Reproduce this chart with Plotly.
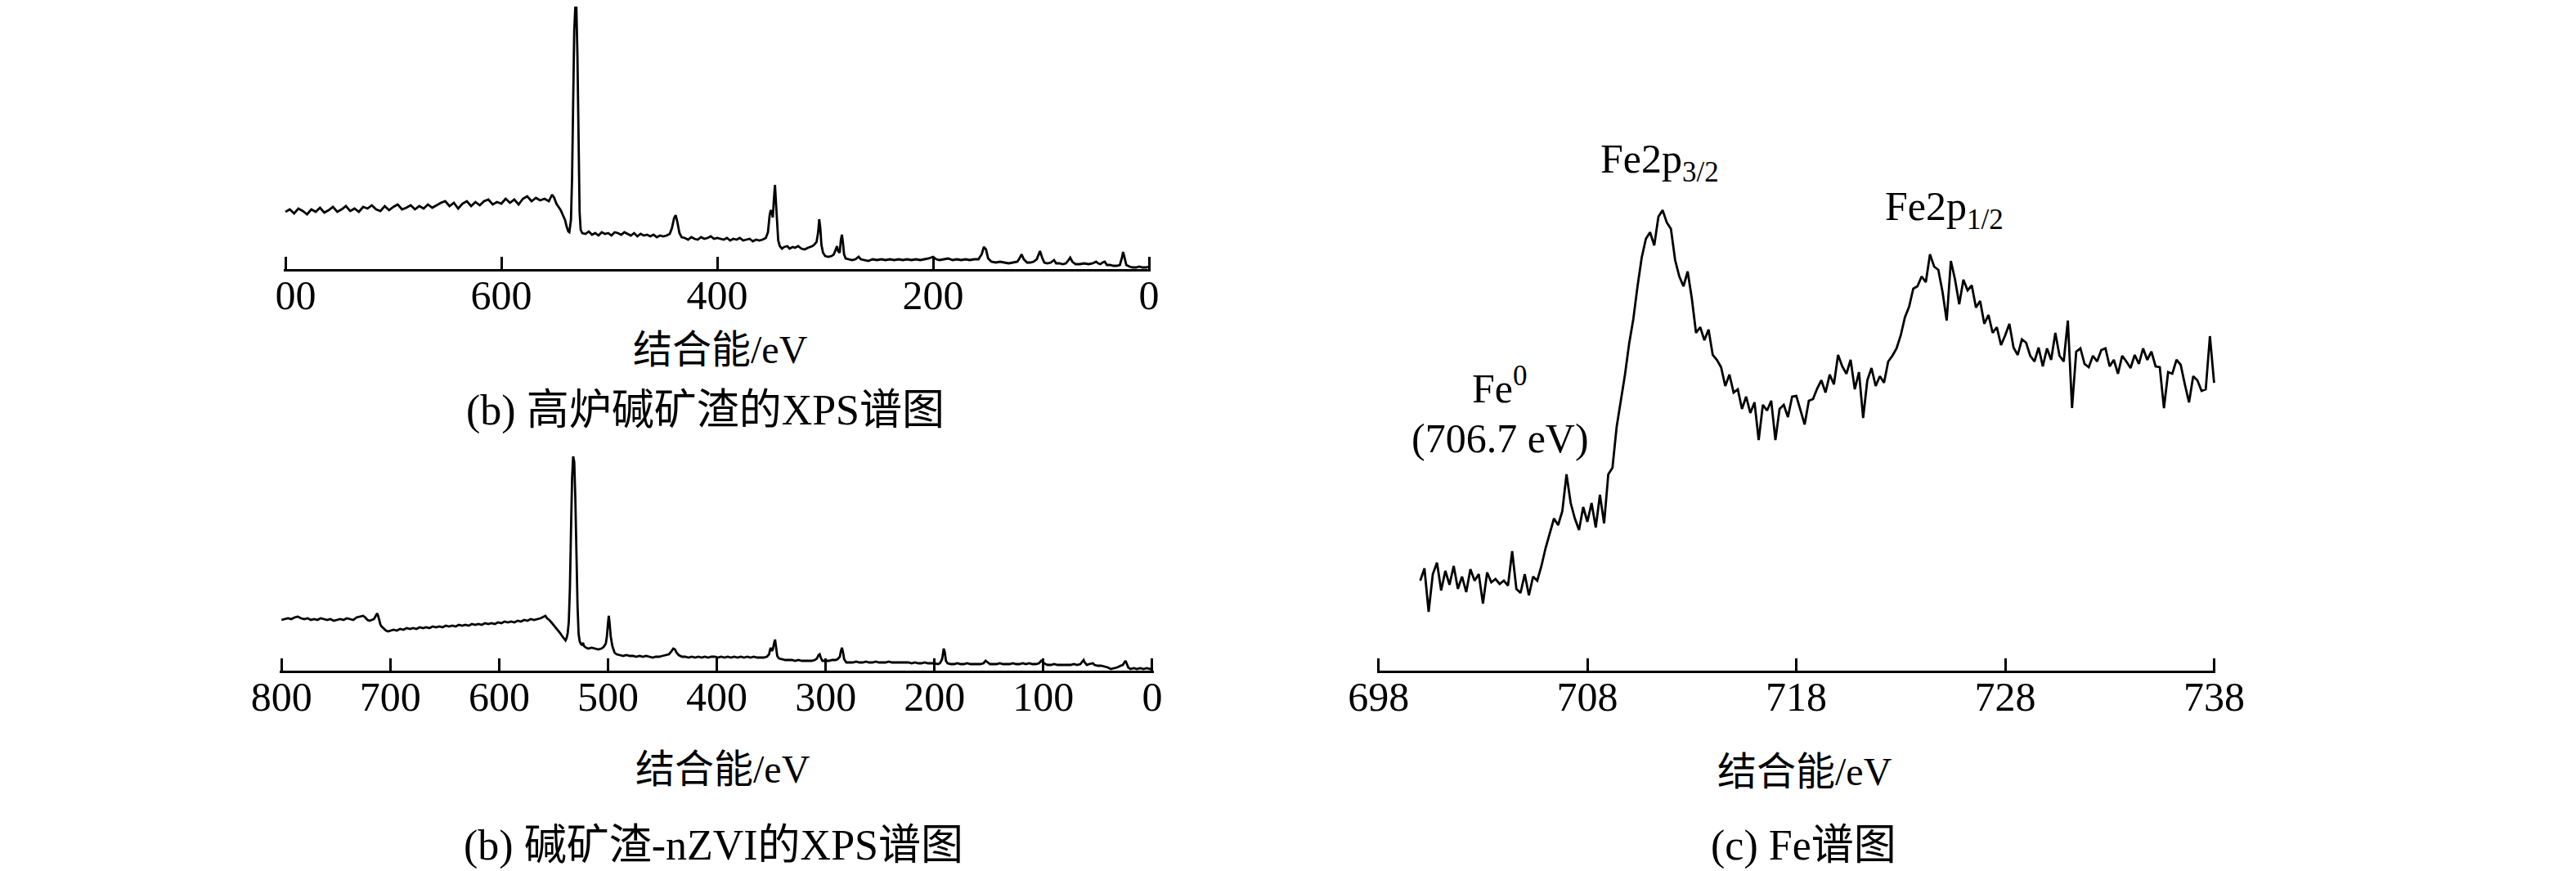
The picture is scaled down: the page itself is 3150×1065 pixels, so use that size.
import plotly.graph_objects as go

# ---------------- data ----------------
# Panel (b) top: blast-furnace alkali slag XPS survey; intensity in a.u.
SLAG_EV = [800, 796, 792, 788, 784, 780, 776, 772, 768, 764, 760, 756, 752, 748, 744, 740, 736, 732, 728, 724,
           720, 716, 712, 708, 704, 700, 696, 692, 688, 684, 680, 676, 672, 668, 664, 660, 656, 652, 648, 644,
           640, 636, 632, 628, 624, 620, 616, 612, 608, 604, 600, 596, 592, 588, 584, 580, 576, 572, 568, 564,
           560, 556, 553, 551, 549, 547, 545, 543, 541, 539.5, 538, 537, 535.5, 534.5, 533.5, 532.5, 531.5, 530.5, 529.5, 528.5,
           527.5, 526.5, 525, 522, 519, 516, 513, 510, 507, 504, 501, 498, 495, 492, 489, 486, 483, 480, 477, 474,
           471, 468, 465, 462, 459, 456, 453, 450, 447, 444, 442, 440, 438.5, 437, 435, 433, 430, 427, 424, 421,
           418, 415, 412, 409, 406, 403, 400, 397, 394, 391, 388, 385, 382, 379, 376, 373, 370, 367, 364, 361,
           358, 355, 353, 351.5, 350.5, 349.5, 348.5, 347.5, 346.5, 345.5, 344.5, 343.5, 342, 340, 338, 335, 333, 330, 328, 325,
           322, 319, 316, 314, 312, 310, 308, 306.5, 305.5, 304.5, 303.5, 302, 300, 297, 294, 292, 290, 289, 288, 286.5,
           285.5, 284.5, 283.5, 282.5, 281, 278, 275, 272, 269, 267, 264, 260, 256, 252, 248, 244, 240, 236, 232, 228,
           224, 220, 216, 212, 208, 204, 200, 197, 194, 190, 186, 182, 178, 174, 170, 166, 162, 158, 155, 153,
           151, 149, 146, 142, 138, 134, 130, 126, 122, 120, 118, 116, 113, 110, 107, 104, 102, 101, 99, 97,
           94, 91, 89, 88, 86, 83, 80, 77, 75, 73, 71, 68, 64, 60, 56, 52, 49, 47, 45, 43,
           41, 39, 36, 33, 30, 27, 25, 24, 23, 21, 18, 15, 12, 9, 6, 3, 0]
SLAG_INT = [70, 73, 68, 74, 71, 67, 73, 70, 75, 69, 72, 76, 70, 73, 77, 71, 74, 70, 76, 74,
            78, 73, 71, 77, 72, 76, 79, 73, 75, 78, 73, 77, 74, 79, 75, 78, 81, 83, 77, 81,
            74, 80, 83, 77, 82, 78, 83, 85, 79, 82, 80, 86, 81, 85, 79, 86, 89, 83, 87, 84,
            86, 83, 91, 87, 80, 76, 72, 66, 60, 52, 46, 45, 60, 110, 200, 290, 320, 320, 260, 150,
            70, 48, 44, 43, 46, 42, 44, 41, 45, 43, 44, 41, 45, 44, 42, 45, 43, 41, 44, 40,
            43, 41, 42, 40, 42, 39, 41, 40, 41, 43, 50, 62, 66, 58, 44, 39, 38, 36, 39, 37,
            36, 39, 37, 38, 40, 37, 38, 37, 36, 38, 35, 37, 36, 38, 35, 36, 37, 34, 36, 35,
            36, 38, 45, 65, 72, 70, 63, 85, 103, 80, 50, 35, 28, 25, 27, 28, 25, 27, 26, 28,
            25, 24, 26, 27, 28, 30, 33, 45, 61, 50, 30, 20, 16, 15, 16, 18, 24, 28, 22, 20,
            35, 42, 32, 18, 13, 12, 11, 12, 15, 12, 11, 10, 12, 11, 12, 11, 12, 11, 12, 11,
            12, 11, 12, 11, 12, 13, 15, 12, 11, 12, 13, 11, 12, 11, 12, 11, 12, 12, 18, 27,
            24, 13, 9, 8, 9, 8, 7, 8, 9, 13, 18, 12, 8, 8, 9, 12, 20, 22, 14, 8,
            7, 8, 10, 11, 7, 7, 6, 7, 10, 14, 9, 6, 6, 7, 6, 7, 9, 7, 6, 8,
            9, 5, 5, 4, 4, 5, 14, 21, 16, 5, 3, 2, 2, 3, 2, 2, 3]

# Panel (b) bottom: alkali slag - nZVI XPS survey; intensity in a.u.
NZVI_EV = [800, 797, 794, 791, 788, 785, 782, 779, 776, 773, 770, 767, 764, 761, 758, 755, 752, 749, 746, 743,
           740, 737, 734, 731, 728, 725, 723, 721, 719, 717, 715, 713, 712, 711, 710, 709, 708, 706, 704, 702,
           700, 697, 694, 691, 688, 685, 682, 679, 676, 673, 670, 667, 664, 661, 658, 655, 652, 649, 646, 643,
           640, 637, 634, 631, 628, 625, 622, 619, 616, 613, 610, 607, 604, 601, 598, 595, 592, 589, 586, 583,
           580, 577, 574, 571, 568, 565, 562, 559, 557.5, 556, 554, 552, 550, 548, 546, 544, 542, 540, 539, 538,
           537, 536, 535, 534, 533, 532, 531, 530, 529, 528, 527, 526, 525, 524, 523, 522, 520, 518, 515, 512,
           509, 506, 504, 502, 501, 500, 499.3, 498.5, 497.5, 496, 494, 492, 489, 486, 483, 480, 477, 474, 471, 468,
           465, 462, 459, 456, 453, 450, 447, 444, 442, 440, 438.5, 437, 435, 432, 429, 426, 423, 420, 417, 414,
           411, 408, 405, 402, 399, 396, 393, 390, 387, 384, 381, 378, 375, 372, 369, 366, 363, 360, 357, 354,
           352, 351, 350.3, 349.5, 348.5, 347.5, 346.5, 345.5, 344.5, 343, 340, 337, 334, 331, 328, 325, 322, 319, 316, 313,
           310, 308, 306.5, 305.5, 304.5, 303, 300, 297, 294, 291, 289, 287, 286, 285, 284, 283, 281, 278, 275, 272,
           269, 266, 263, 260, 257, 254, 251, 248, 245, 242, 239, 236, 233, 230, 227, 224, 221, 218, 215, 212,
           209, 206, 203, 200, 197, 195, 193, 192, 191.5, 190.5, 189.5, 188, 185, 182, 179, 176, 173, 170, 167, 164,
           161, 158, 155, 153, 151, 149, 146, 143, 140, 137, 134, 131, 128, 125, 122, 119, 116, 113, 110, 107,
           104, 102, 100, 98, 96, 93, 90, 87, 84, 81, 78, 75, 72, 69, 66, 64, 63, 62, 60, 58,
           56, 54.5, 53, 50, 47, 44, 41, 38, 35, 32, 29, 27, 25.5, 24.5, 23.5, 22, 20, 17, 14, 11,
           8, 5, 2, 0]
NZVI_INT = [62, 63, 64, 63, 65, 66, 64, 63, 64, 62, 63, 62, 64, 63, 62, 63, 61, 62, 63, 62,
            64, 63, 62, 65, 66, 67, 65, 62, 61, 62, 63, 68, 70, 66, 60, 56, 54, 51, 49, 48,
            49, 50, 49, 51, 50, 52, 51, 52, 51, 53, 52, 53, 52, 54, 53, 54, 53, 55, 54, 55,
            54, 56, 55, 56, 55, 57, 56, 57, 56, 58, 57, 58, 57, 59, 58, 60, 59, 60, 59, 61,
            60, 62, 61, 63, 62, 63, 64, 66, 67, 64, 62, 59, 56, 53, 50, 46, 42, 38, 37, 40,
            46, 60, 100, 170, 235, 262, 255, 210, 140, 80, 45, 36, 33, 31, 34, 30, 28, 27, 28, 27,
            26, 27, 29, 33, 42, 58, 67, 58, 42, 30, 22, 20, 19, 18, 19, 18, 18, 17, 18, 17,
            18, 17, 16, 17, 17, 18, 19, 20, 23, 27, 26, 22, 19, 17, 17, 16, 17, 16, 17, 16,
            17, 16, 17, 17, 16, 17, 16, 17, 16, 17, 16, 17, 16, 17, 16, 17, 16, 16, 16, 17,
            20, 26, 28, 24, 26, 33, 38, 28, 18, 15, 14, 13, 13, 13, 12, 13, 12, 12, 12, 12,
            13, 15, 19, 20, 16, 12, 12, 12, 13, 13, 14, 17, 24, 28, 22, 14, 10, 10, 10, 11,
            10, 10, 11, 10, 10, 11, 10, 10, 10, 11, 10, 10, 10, 10, 10, 10, 9, 10, 9, 9,
            10, 9, 9, 9, 8, 9, 14, 22, 27, 22, 12, 9, 8, 8, 9, 8, 8, 9, 8, 8,
            8, 8, 9, 12, 10, 8, 8, 8, 9, 8, 8, 8, 9, 8, 8, 9, 8, 9, 8, 8,
            9, 12, 10, 8, 7, 7, 8, 7, 7, 7, 7, 7, 8, 7, 8, 11, 13, 10, 7, 8,
            9, 9, 7, 6, 6, 5, 4, 2, 3, 4, 6, 7, 10, 12, 9, 4, 2, 3, 2, 3,
            2, 3, 2, 3]

# Panel (c): Fe 2p high-resolution spectrum, 0.2 eV steps; intensity in a.u.
FE_EV = [round(700.0 + 0.2 * i, 1) for i in range(191)]
FE_INT = [110, 125, 72, 118, 132, 98, 122, 105, 128, 100,
          115, 96, 124, 110, 118, 82, 120, 108, 112, 106,
          110, 104, 146, 100, 95, 118, 92, 115, 110, 128,
          150, 168, 186, 178, 195, 240, 205, 186, 172, 200,
          182, 205, 175, 215, 180, 240, 248, 298, 330, 362,
          400, 430, 470, 505, 528, 536, 520, 555, 563, 548,
          540, 502, 482, 470, 488, 455, 413, 420, 404, 417,
          386, 380, 371, 348, 362, 340, 344, 320, 335, 315,
          328, 282, 325, 318, 330, 282, 320, 325, 310, 335,
          336, 318, 301, 330, 332, 345, 355, 340, 362, 350,
          386, 372, 363, 380, 344, 365, 309, 355, 370, 348,
          360, 352, 378, 385, 394, 410, 432, 445, 467, 470,
          482, 475, 509, 494, 490, 463, 428, 501, 478, 448,
          478, 465, 471, 444, 452, 424, 435, 413, 420, 398,
          410, 424, 395, 386, 405, 401, 385, 378, 395, 372,
          394, 380, 413, 385, 378, 428, 321, 390, 394, 375,
          371, 385, 378, 392, 394, 372, 380, 363, 385, 378,
          370, 386, 375, 394, 380, 390, 372, 371, 321, 365,
          363, 380, 374, 350, 328, 360, 355, 342, 344, 409,
          352]

SLAG_TICKS = [800, 600, 400, 200, 0]
NZVI_TICKS = [800, 700, 600, 500, 400, 300, 200, 100, 0]
FE_TICKS = [698, 708, 718, 728, 738]

X_TITLE = "结合能/eV"
CAPTION_A = "(b) 高炉碱矿渣的XPS谱图"
CAPTION_B = "(b) 碱矿渣-nZVI的XPS谱图"
CAPTION_C = "(c) Fe谱图"
LABEL_32 = "Fe2p<sub>3/2</sub>"
LABEL_12 = "Fe2p<sub>1/2</sub>"
LABEL_FE0 = "Fe<sup>0</sup>"
LABEL_FE0_EV = "(706.7 eV)"

# ---------------- figure ----------------
W, H = 3150, 1065
FONT = "Liberation Serif, 'Times New Roman', 'Noto Sans CJK SC', serif"


def px(x):
    return x / W


def py(y):
    return 1 - y / H


LINE = dict(color="black", width=2.8)

fig = go.Figure()
fig.add_trace(go.Scatter(x=SLAG_EV, y=SLAG_INT, mode="lines", line=LINE, xaxis="x", yaxis="y",
                         showlegend=False))
fig.add_trace(go.Scatter(x=NZVI_EV, y=NZVI_INT, mode="lines", line=LINE, xaxis="x2", yaxis="y2",
                         showlegend=False))
fig.add_trace(go.Scatter(x=FE_EV, y=FE_INT, mode="lines", line=LINE, xaxis="x3", yaxis="y3",
                         showlegend=False))

axis_style = dict(showline=True, linecolor="black", linewidth=3, ticks="inside", ticklen=15,
                  tickwidth=3, tickcolor="black", showgrid=False, zeroline=False,
                  ticklabelstandoff=-14,
                  tickfont=dict(family=FONT, size=50, color="black"), fixedrange=True)

# ranges are padded ~2 px past the end ticks so the boundary ticks are drawn
fig.update_layout(
    width=W, height=H, margin=dict(l=0, r=0, t=0, b=0),
    paper_bgcolor="white", plot_bgcolor="white",
    font=dict(family=FONT, size=48, color="black"),
    xaxis=dict(domain=[px(311), px(1395)], range=[801.5, -1.5], anchor="y",
               tickvals=SLAG_TICKS, ticktext=[str(v) for v in SLAG_TICKS], **axis_style),
    yaxis=dict(domain=[py(321), py(0)], range=[0, 321], anchor="x", visible=False),
    xaxis2=dict(domain=[px(306), px(1399)], range=[801.5, -1.5], anchor="y2",
                tickvals=NZVI_TICKS, ticktext=[str(v) for v in NZVI_TICKS], **axis_style),
    yaxis2=dict(domain=[py(812), py(540)], range=[0, 272], anchor="x2", visible=False),
    xaxis3=dict(domain=[px(1677.9), px(2727.1)], range=[697.92, 738.08], anchor="y3",
                tickvals=FE_TICKS, ticktext=[str(v) for v in FE_TICKS], **axis_style),
    yaxis3=dict(domain=[py(812), py(150)], range=[0, 662], anchor="x3", visible=False),
)

# the source panel is cropped on the left: hide the leading "8" of the first label
fig.add_shape(type="rect", xref="paper", yref="paper", x0=0, x1=px(302), y0=py(400), y1=py(328),
              fillcolor="white", line=dict(width=0), layer="above")


def note(text, x, y, size=50):
    fig.add_annotation(text=text, xref="paper", yref="paper", x=px(x), y=py(y),
                       xanchor="center", yanchor="middle", showarrow=False,
                       font=dict(family=FONT, size=size, color="black"))


note(X_TITLE, 857, 420, 48)
note(CAPTION_A, 838, 494, 52)
note(X_TITLE, 860, 932, 48)
note(CAPTION_B, 848, 1026, 52)
note(X_TITLE, 2213, 935, 48)
note(CAPTION_C, 2212, 1026, 52)
note(LABEL_32, 2032, 190)
note(LABEL_12, 2388, 248)
note(LABEL_FE0, 1832, 463)
note(LABEL_FE0_EV, 1832, 528)

fig.write_html("out.html")
